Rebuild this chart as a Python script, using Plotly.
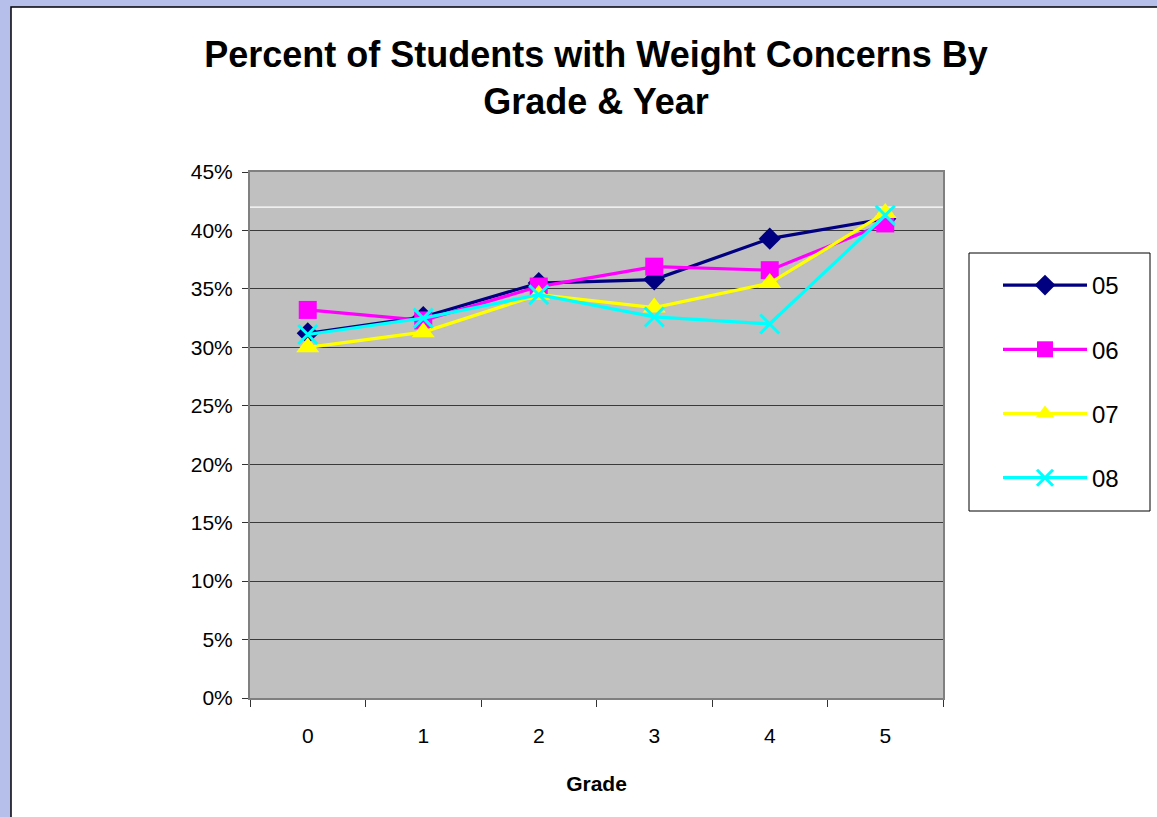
import plotly.graph_objects as go

# chart data (share of students, by grade)
grades = ["0", "1", "2", "3", "4", "5"]
years = ["05", "06", "07", "08"]
pct_05 = [0.312, 0.326, 0.355, 0.358, 0.393, 0.410]
pct_06 = [0.332, 0.323, 0.352, 0.369, 0.366, 0.406]
pct_07 = [0.300, 0.313, 0.345, 0.334, 0.355, 0.415]
pct_08 = [0.311, 0.325, 0.345, 0.326, 0.320, 0.413]
y_ticks = [0, 0.05, 0.10, 0.15, 0.20, 0.25, 0.30, 0.35, 0.40, 0.45]

W, H = 1157, 817
L, R, T, B = 250, 943, 172, 698   # plot area in pixels
FONT = "Arial, Liberation Sans, sans-serif"

styles = {
    "05": dict(color="#000080", symbol="diamond", size=17),
    "06": dict(color="#FF00FF", symbol="square", size=18),
    "07": dict(color="#FFFF00", symbol="triangle-up", size=20),
    "08": dict(color="#00FFFF", symbol="x-thin", size=19),
}

fig = go.Figure()
for name, vals in zip(years, [pct_05, pct_06, pct_07, pct_08]):
    st = styles[name]
    if st["symbol"] == "x-thin":
        marker = dict(symbol="x-thin", size=st["size"], color=st["color"],
                      line=dict(color=st["color"], width=3))
    else:
        marker = dict(symbol=st["symbol"], size=st["size"], color=st["color"],
                      line=dict(width=0))
    fig.add_trace(go.Scatter(x=grades, y=vals, name=name, mode="lines+markers",
                             line=dict(color=st["color"], width=3.2),
                             marker=marker, legendgroup=name))


# "paper" in plotly is the plot area, so convert page pixels to it
def fx(px):
    return (px - L) / (R - L)


def fy(py):
    return (B - py) / (B - T)


lav = "#B6BEEA"
shapes = [
    # lavender frame around the white chart panel
    dict(type="rect", xref="paper", yref="paper", x0=fx(-5), x1=fx(11), y0=fy(830), y1=fy(-5),
         fillcolor=lav, line=dict(width=0), layer="below"),
    dict(type="rect", xref="paper", yref="paper", x0=fx(-5), x1=fx(1170), y0=fy(7), y1=fy(-5),
         fillcolor=lav, line=dict(width=0), layer="below"),
    dict(type="rect", xref="paper", yref="paper", x0=fx(11), x1=fx(1180), y0=fy(840), y1=fy(7),
         fillcolor="rgba(0,0,0,0)", line=dict(color="black", width=1.5), layer="below"),
    # legend box
    dict(type="rect", xref="paper", yref="paper", x0=fx(969), x1=fx(1150),
         y0=fy(511), y1=fy(253), fillcolor="white",
         line=dict(color="black", width=1), layer="below"),
    # stray white line in the plot area
    dict(type="line", xref="x domain", yref="y", x0=0, x1=1, y0=0.42, y1=0.42,
         line=dict(color="white", width=1.2), layer="below"),
]

fig.update_layout(
    width=W, height=H,
    margin=dict(l=L, r=W - R, t=T, b=H - B),
    paper_bgcolor="white",
    plot_bgcolor="#C0C0C0",
    font=dict(family=FONT, color="black", size=21),
    title=dict(text="<b>Percent of Students with Weight Concerns By<br>Grade & Year</b>",
               x=596 / W, xanchor="center", xref="container",
               y=1 - 67 / H, yanchor="top", yref="container",
               font=dict(family=FONT, size=36, color="black")),
    showlegend=True,
    legend=dict(x=fx(998), xanchor="left", y=fy(263), yanchor="top",
                bgcolor="rgba(0,0,0,0)", borderwidth=0,
                font=dict(family=FONT, size=24, color="black"),
                tracegroupgap=30, itemwidth=84),
    shapes=shapes,
)

fig.update_xaxes(type="category", range=[-0.5, 5.5], tickson="boundaries",
                 ticks="outside", ticklen=7,
                 tickcolor="#333333", showgrid=False, showline=True, linecolor="#808080",
                 linewidth=2, mirror=True, ticklabelstandoff=18,
                 tickfont=dict(size=21),
                 title=dict(text="<b>Grade</b>", font=dict(size=21), standoff=30))
fig.update_yaxes(range=[0, 0.45], tickvals=y_ticks, tickformat=".0%", ticks="outside",
                 ticklen=6, tickcolor="#333333", showgrid=True, gridcolor="#3a3a3a",
                 gridwidth=1, showline=True, linecolor="#808080", linewidth=2,
                 mirror=True, zeroline=False, ticklabelstandoff=5,
                 tickfont=dict(size=21))

fig.write_html("out.html", config={"displayModeBar": False},
               post_script="document.body.style.margin='0';document.body.style.overflow='hidden';")
